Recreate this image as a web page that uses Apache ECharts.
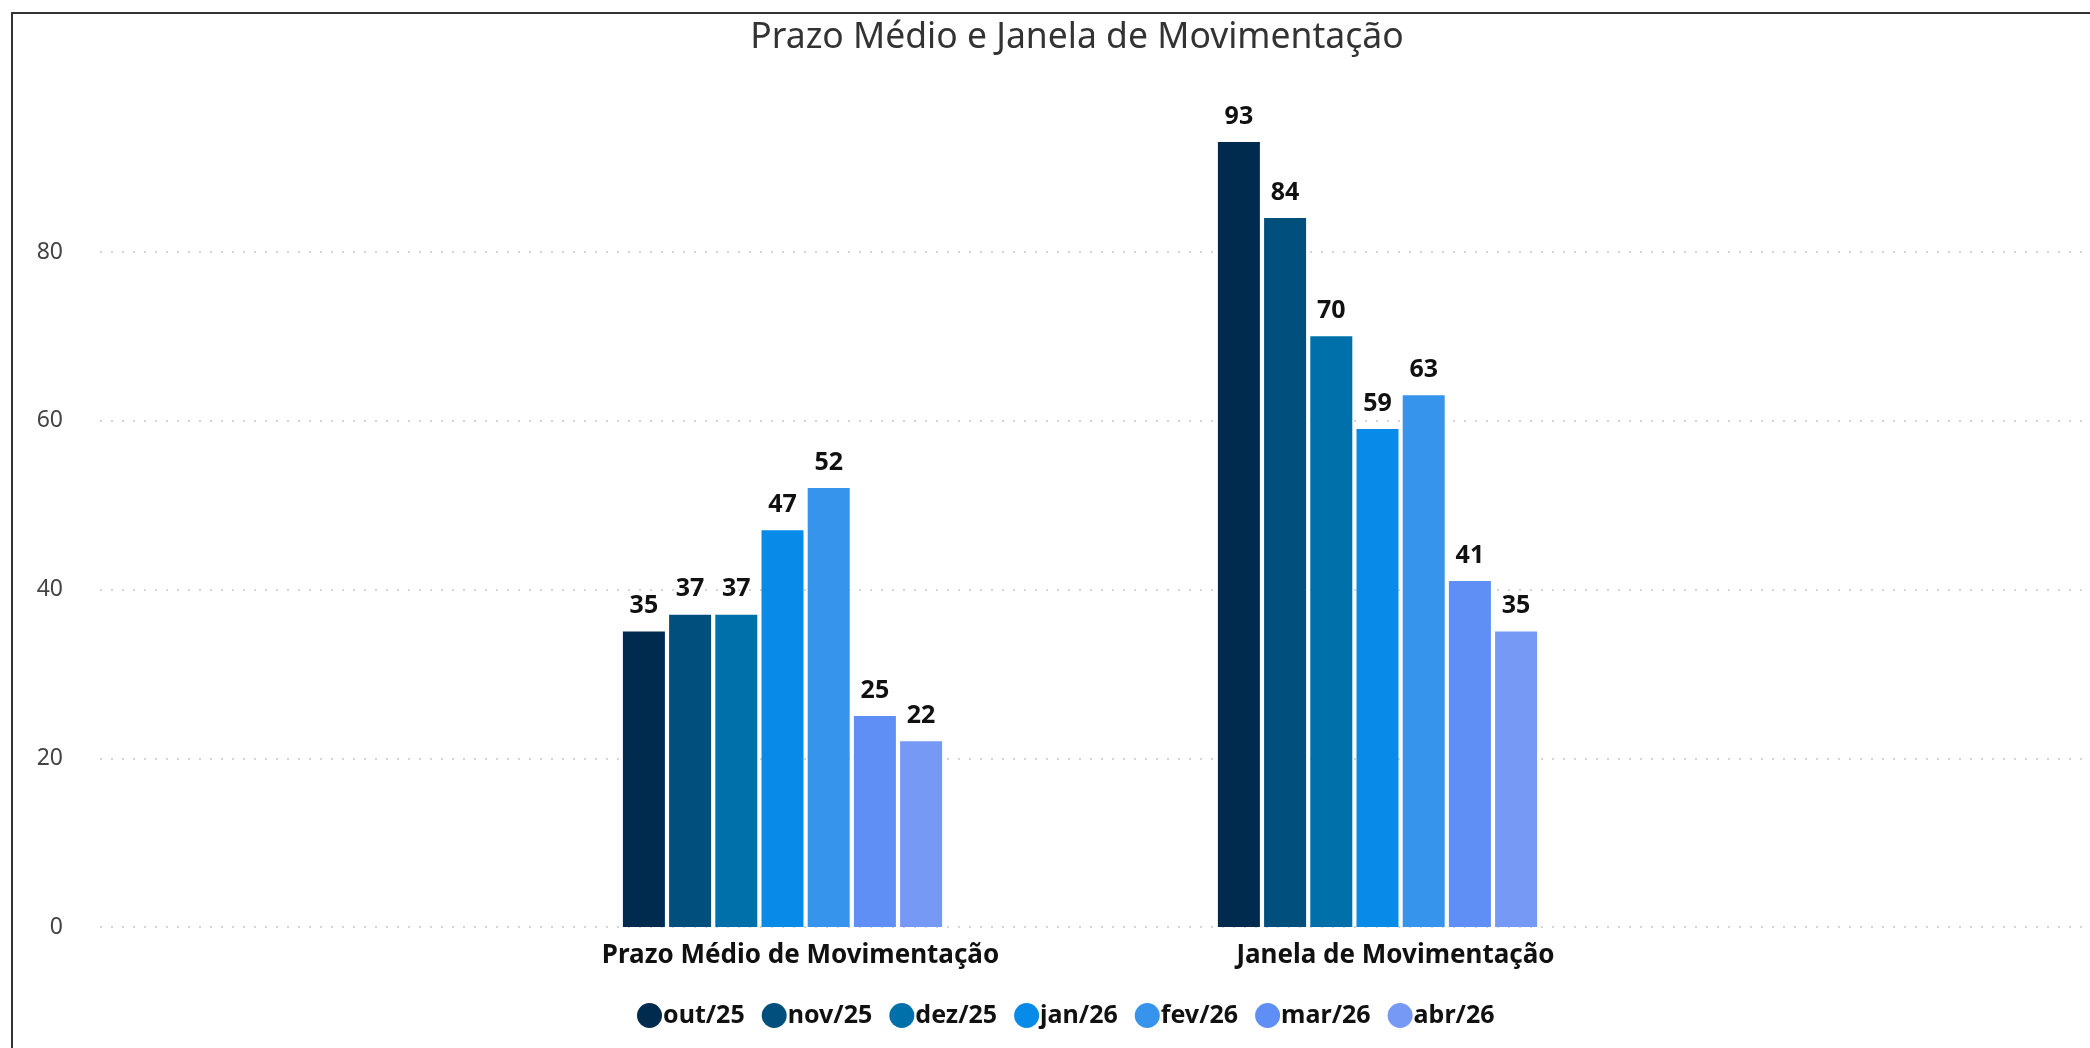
<!DOCTYPE html>
<html>
<head>
<meta charset="utf-8">
<script src="https://cdn.jsdelivr.net/npm/echarts@6/dist/echarts.min.js"></script>
<style>
  html, body { margin: 0; padding: 0; background: #fff; }
  #chart { width: 2090px; height: 1048px; }
  .frame { position: absolute; left: 11px; top: 12px; right: -4px; bottom: -4px; border-left: 2px solid #333; border-top: 2px solid #333; pointer-events: none; }
</style>
</head>
<body>
<div id="chart"></div>
<div class="frame"></div>
<script>
const categories = ['Prazo Médio de Movimentação', 'Janela de Movimentação']
const months = ['out/25', 'nov/25', 'dez/25', 'jan/26', 'fev/26', 'mar/26', 'abr/26']
const colors = ['#002b4f', '#004f7c', '#0070ab', '#088be8', '#3794ed', '#5f8ff4', '#7599f4']
const out25 = [35, 93]
const nov25 = [37, 84]
const dez25 = [37, 70]
const jan26 = [47, 59]
const fev26 = [52, 63]
const mar26 = [25, 41]
const abr26 = [22, 35]
const values = [out25, nov25, dez25, jan26, fev26, mar26, abr26]
const yTicks = { min: 0, max: 80, interval: 20 }

const font = '"Noto Sans", "Open Sans", sans-serif'
const chart = echarts.init(document.getElementById('chart'))

const option = {
  backgroundColor: '#fff',
  animation: false,
  title: {
    text: 'Prazo Médio e Janela de Movimentação',
    left: 1072,
    textAlign: 'center',
    top: 15,
    textStyle: { fontFamily: font, fontWeight: 'normal', fontSize: 35.5, color: '#333' }
  },
  legend: {
    data: months,
    left: 632,
    top: 998,
    icon: 'circle',
    itemWidth: 25,
    itemHeight: 25,
    itemGap: 17,
    textStyle: { fontFamily: font, fontWeight: 'bold', fontSize: 25, color: '#111', padding: [0, 0, 0, -4] }
  },
  grid: [
    { left: 100, right: 0, top: 252, bottom: 121 },
    { left: 485, width: 1190, top: 83, bottom: 121 }
  ],
  xAxis: [
    { type: 'category', gridIndex: 0, data: categories, show: false },
    {
      type: 'category',
      gridIndex: 1,
      data: categories,
      axisLine: { show: false },
      axisTick: { show: false },
      axisLabel: { fontFamily: font, fontWeight: 'bold', fontSize: 26, color: '#111', margin: 16, padding: [0, 0, 0, 36] }
    }
  ],
  yAxis: [
    {
      type: 'value',
      gridIndex: 0,
      min: yTicks.min,
      max: yTicks.max,
      interval: yTicks.interval,
      axisLine: { show: false },
      axisTick: { show: false },
      axisLabel: { fontFamily: font, fontSize: 23, color: '#444', margin: 37 },
      splitLine: { lineStyle: { color: '#c8c8c8', width: 1.5, type: [2, 9] } }
    },
    { type: 'value', gridIndex: 1, min: 0, max: 100, show: false, splitLine: { show: false } }
  ],
  series: months.map((m, i) => ({
    name: m,
    type: 'bar',
    xAxisIndex: 1,
    yAxisIndex: 1,
    barWidth: 42,
    barGap: '10%',
    data: values[i],
    itemStyle: { color: colors[i] },
    label: {
      show: true,
      position: 'top',
      distance: 13,
      fontFamily: font,
      fontWeight: 'bold',
      fontSize: 25,
      color: '#111'
    }
  }))
}

chart.setOption(option)
</script>
</body>
</html>
